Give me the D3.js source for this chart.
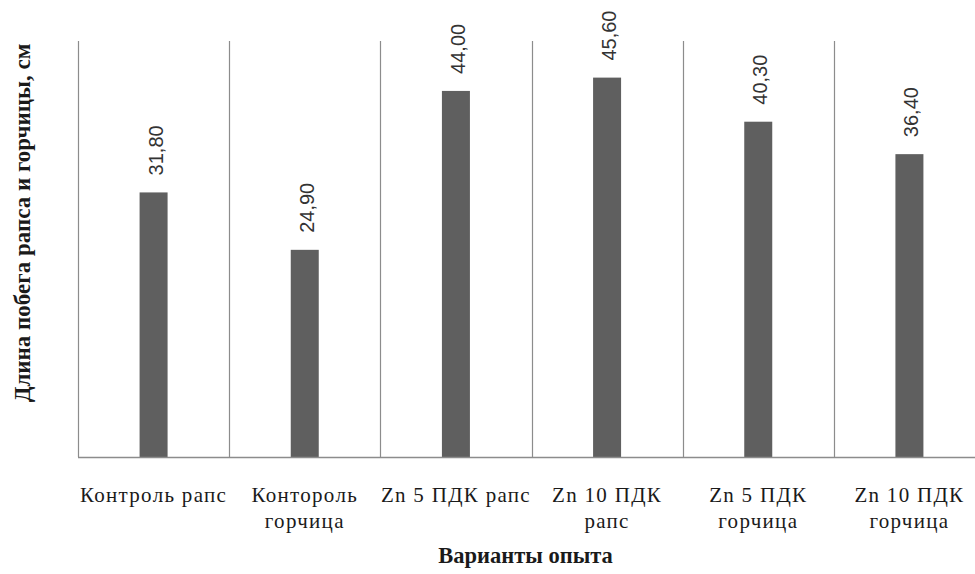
<!DOCTYPE html>
<html>
<head>
<meta charset="utf-8">
<script src="https://cdn.jsdelivr.net/npm/d3@7"></script>
<style>
  html, body { margin: 0; padding: 0; background: #fff; }
  svg { display: block; }
</style>
</head>
<body>
<script>
// Варианты опыта и длина побега, см
const categories = [
  ["Контроль рапс"],
  ["Контороль", "горчица"],
  ["Zn 5 ПДК рапс"],
  ["Zn 10 ПДК", "рапс"],
  ["Zn 5 ПДК", "горчица"],
  ["Zn 10 ПДК", "горчица"]
];
const values = [31.8, 24.9, 44.0, 45.6, 40.3, 36.4];
const valueLabels = ["31,80", "24,90", "44,00", "45,60", "40,30", "36,40"];
const yTitle = "Длина побега рапса и горчицы, см";
const xTitle = "Варианты опыта";

const W = 975, H = 574;
const plotLeft = 78, plotRight = 985, plotTop = 41, plotBottom = 457;
const barW = 28;
const serif = "'Liberation Serif', 'Times New Roman', serif";

const svg = d3.select("body").append("svg")
  .attr("width", W).attr("height", H);

const keys = categories.map((c, i) => i);
const x = d3.scaleBand().domain(keys).range([plotLeft, plotRight]).padding(0);
const y = d3.scaleLinear().domain([0, 50]).range([plotBottom, plotTop]);

// vertical separators between categories
const edges = keys.map(k => x(k)).concat([x(keys[keys.length - 1]) + x.bandwidth()]);
svg.append("g").selectAll("line").data(edges).join("line")
  .attr("x1", d => Math.round(d) + 0.5).attr("x2", d => Math.round(d) + 0.5)
  .attr("y1", y(50)).attr("y2", y(0))
  .attr("stroke", "#8c8c8c").attr("stroke-width", 1.2);

// bars
svg.append("g").selectAll("rect").data(values).join("rect")
  .attr("x", (d, i) => x(i) + x.bandwidth() / 2 - barW / 2)
  .attr("width", barW)
  .attr("y", d => y(d))
  .attr("height", d => y(0) - y(d))
  .attr("fill", "#5f5f5f");

// baseline
svg.append("line")
  .attr("x1", plotLeft).attr("x2", W)
  .attr("y1", y(0) + 0.5).attr("y2", y(0) + 0.5)
  .attr("stroke", "#8c8c8c").attr("stroke-width", 1.5);

// value labels, rotated
svg.append("g").selectAll("text").data(values).join("text")
  .attr("transform", (d, i) => `translate(${x(i) + x.bandwidth() / 2 + 2},${y(d) - 17}) rotate(-90)`)
  .attr("dy", "0.35em")
  .attr("text-anchor", "start")
  .attr("font-family", "'Liberation Sans', Arial, sans-serif")
  .attr("font-size", 20)
  .attr("fill", "#333")
  .text((d, i) => valueLabels[i]);

// category labels
const cat = svg.append("g").selectAll("text").data(categories).join("text")
  .attr("x", (d, i) => x(i) + x.bandwidth() / 2)
  .attr("y", 502)
  .attr("text-anchor", "middle")
  .attr("font-family", serif)
  .attr("font-size", 21)
  .attr("letter-spacing", 1.3)
  .attr("fill", "#1a1a1a");
cat.selectAll("tspan").data(d => d).join("tspan")
  .attr("x", function () { return d3.select(this.parentNode).attr("x"); })
  .attr("dy", (d, j) => j === 0 ? 0 : 26)
  .text(d => d);

// axis titles
svg.append("text")
  .attr("x", (plotLeft + plotRight) / 2 - 6).attr("y", 563)
  .attr("text-anchor", "middle")
  .attr("font-family", serif)
  .attr("font-weight", "bold")
  .attr("font-size", 22.5)
  .attr("fill", "#1a1a1a")
  .text(xTitle);

svg.append("text")
  .attr("transform", `translate(30,${(plotTop + 405) / 2}) rotate(-90)`)
  .attr("text-anchor", "middle")
  .attr("font-family", serif)
  .attr("font-weight", "bold")
  .attr("font-size", 23)
  .attr("fill", "#1a1a1a")
  .text(yTitle);
</script>
</body>
</html>
